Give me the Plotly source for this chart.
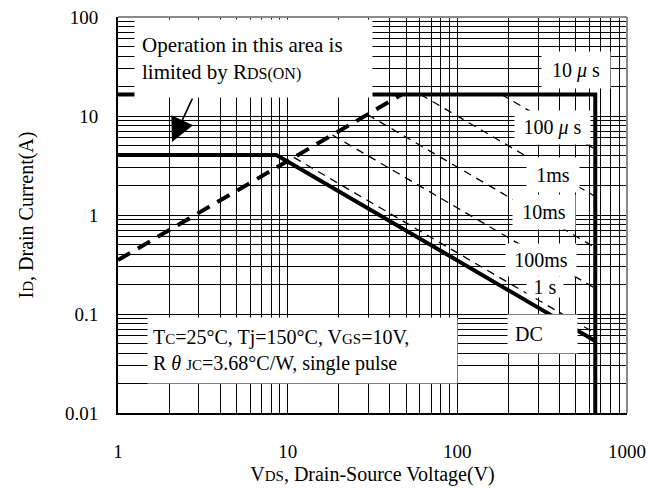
import numpy as np
import plotly.graph_objects as go

# ---- data: safe operating area, VDS (V) vs ID (A) ----
# package limit: ID max horizontal, then VDS max vertical
limit_v = [1, 650, 650]
limit_i = [16.5, 16.5, 0.01]

# DC curve: current limit then constant-power slope
dc_v = [1, 8.59, 650]
dc_i = [4.04, 4.04, 0.0534]

# RDS(on) limitation line
rds_v = [1, 47]
rds_i = [0.351, 16.5]

# single-pulse curves (start / end points)
pulse_names = ["100 μs", "1 ms", "10 ms", "100 ms", "1 s"]
pulse_v = [[181.8, 650], [60.6, 650], [29.5, 650], [18.34, 650], [10.87, 650]]
pulse_i = [[16.5, 4.615], [16.5, 1.538], [10.34, 0.469], [6.43, 0.1815], [3.82, 0.0638]]

x_tick_vals = [1, 10, 100, 1000]
x_tick_text = ["1", "10", "100", "1000"]
y_tick_vals = [0.01, 0.1, 1, 10, 100]
y_tick_text = ["0.01", "0.1", "1", "10", "100"]

FONT = "Liberation Serif"


def small(s, size=15):
    return f"<span style='font-size:{size}px'>{s}</span>"


fig = go.Figure()

fig.add_trace(go.Scatter(x=limit_v, y=limit_i, mode="lines",
                         line=dict(color="black", width=4),
                         showlegend=False, hoverinfo="skip"))
fig.add_trace(go.Scatter(x=dc_v, y=dc_i, mode="lines",
                         line=dict(color="black", width=4),
                         showlegend=False, hoverinfo="skip"))
fig.add_trace(go.Scatter(x=rds_v, y=rds_i, mode="lines",
                         line=dict(color="black", width=4, dash="14px,9px"),
                         showlegend=False, hoverinfo="skip"))
for name, v, i in zip(pulse_names, pulse_v, pulse_i):
    fig.add_trace(go.Scatter(x=v, y=i, mode="lines", name=name,
                             line=dict(color="black", width=1.3, dash="8px,6px"),
                             showlegend=False, hoverinfo="skip"))

minor_vals = [m * 10 ** k for k in range(-2, 3) for m in range(2, 10)]

axis_common = dict(
    type="log", automargin=False,
    showgrid=True, gridcolor="black", gridwidth=1,
    minor=dict(tickmode="array", tickvals=minor_vals, showgrid=True,
               gridcolor="black", gridwidth=1, ticks=""),
    showline=True, linecolor="black", linewidth=2,
    ticks="", zeroline=False,
    tickfont=dict(family=FONT, size=19, color="black"),
)

fig.update_xaxes(**axis_common, range=[0, 3], tickmode="array",
                 tickvals=x_tick_vals, ticktext=x_tick_text,
                 ticklabelstandoff=20,
                 title=dict(text="V" + small("DS") + ", Drain-Source Voltage(V)",
                            font=dict(family=FONT, size=20, color="black"),
                            standoff=6))
fig.update_yaxes(**axis_common, range=[-2, 2], tickmode="array",
                 tickvals=y_tick_vals, ticktext=y_tick_text,
                 ticklabelstandoff=14,
                 title=dict(text="I" + small("D") + ", Drain Current(A)",
                            font=dict(family=FONT, size=20, color="black"),
                            standoff=26))


def box_label(text, cx, cy, w, h, pad=0, align="center", size=20):
    """White-backed text label, centre given in log10 axis units."""
    return dict(text=text, x=cx, y=cy, xref="x", yref="y",
                showarrow=False, width=w, height=h, borderpad=pad,
                bgcolor="white", align=align, valign="middle",
                font=dict(family=FONT, size=size, color="black"))


# positions in log10 units on both axes
annotations = [
    box_label("Operation in this area is<br>limited by R" + small("DS(ON)", 16),
              0.799, 1.581, 223, 63, pad=7, align="left", size=21),
    box_label("10 <i>μ</i> s", 2.702, 1.465, 68, 36),
    box_label("100 <i>μ</i> s", 2.561, 0.885, 75, 33),
    box_label("1ms", 2.561, 0.404, 52, 34),
    box_label("10ms", 2.513, 0.030, 62, 34),
    box_label("100ms", 2.496, -0.455, 70, 32),
    box_label("1 s", 2.519, -0.727, 36, 20),
    box_label("DC", 2.501, -1.202, 55, 24, pad=7, align="left"),
    box_label("T" + small("C") + "=25°C, Tj=150°C, V" + small("GS") + "=10V,<br>"
              "R <i>θ</i> " + small("JC") + "=3.68°C/W, single pulse",
              1.0885, -1.364, 299, 55, pad=5, align="left"),
    # arrow pointing into the RDS(on)-limited region
    dict(x=0.3186, y=0.737, xref="x", yref="y", text="",
         showarrow=True, arrowhead=2, arrowsize=3, arrowwidth=1.6,
         arrowcolor="black", ax=21, ay=-45),
]

fig.update_layout(
    width=648, height=488,
    margin=dict(l=118, r=21, t=17, b=75),
    paper_bgcolor="white", plot_bgcolor="white",
    annotations=annotations,
    shapes=[
        dict(type="line", xref="paper", yref="paper", x0=0, x1=1, y0=1, y1=1,
             line=dict(color="#8a8a8a", width=2), layer="above"),
        dict(type="line", xref="paper", yref="paper", x0=1, x1=1, y0=0, y1=1,
             line=dict(color="#8a8a8a", width=2), layer="above"),
    ],
)

fig.write_html("out.html")
